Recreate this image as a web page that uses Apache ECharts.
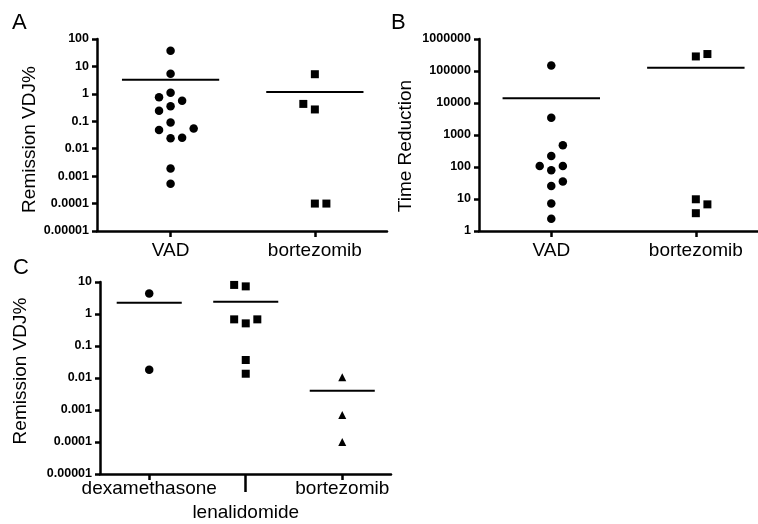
<!DOCTYPE html>
<html>
<head>
<meta charset="utf-8">
<script src="https://cdn.jsdelivr.net/npm/echarts@6/dist/echarts.min.js"></script>
<style>
html, body { margin: 0; padding: 0; background: #fff; }
#main { width: 758px; height: 524px; }
</style>
</head>
<body>
<div id="main"></div>
<script>
var font = 'Liberation Sans, Arial, Helvetica, sans-serif';

// A: Remission VDJ%
var catsA = ['VAD', 'bortezomib'];
var vadA = [37, 5.4, 1.1, 0.75, 0.56, 0.35, 0.24, 0.09, 0.048, 0.055, 0.024, 0.025, 0.0019, 0.00053];
var vadASlot = [0, 0, 0, -1, 1, 0, -1, 0, -1, 2, 0, 1, 0, 0];
var bortA = [5.2, 0.43, 0.27, 0.0001, 0.0001];
var bortASlot = [0, -1, 0, 0, 1];
var meansA = [3.3, 1.17];
var ticksA = ['0.00001', '0.0001', '0.001', '0.01', '0.1', '1', '10', '100'];

// B: Time Reduction
var catsB = ['VAD', 'bortezomib'];
var vadB = [149000, 3440, 481, 222, 108, 108, 79, 35, 25.6, 7.2, 2.4];
var vadBSlot = [0, 0, 1, 0, -1, 1, 0, 1, 0, 0, 0];
var bortB = [285000, 339000, 9.8, 6.8, 3.6];
var bortBSlot = [0, 1, 0, 1, 0];
var meansB = [14200, 126000];
var ticksB = ['1', '10', '100', '1000', '10000', '100000', '1000000'];

// C: Remission VDJ%
var catsC = ['dexamethasone', 'lenalidomide', 'bortezomib'];
var dexC = [4.4, 0.018];
var dexCSlot = [0, 0];
var lenC = [8.1, 7.3, 0.68, 0.51, 0.68, 0.0365, 0.0136];
var lenCSlot = [-1, 0, -1, 0, 1, 0, 0];
var bortC = [0.0105, 0.0007, 0.0001];
var bortCSlot = [0, 0, 0];
var meansC = [2.26, 2.43, 0.004];
var ticksC = ['0.00001', '0.0001', '0.001', '0.01', '0.1', '1', '10'];

var myChart = echarts.init(document.getElementById('main'));

function logLabel(ticks, minExp) {
    return function (v) {
        return ticks[Math.round(Math.log10(v)) - minExp];
    };
}

function dots(axis, cat, vals, slots, step, symbol, size) {
    return {
        type: 'scatter',
        xAxisIndex: axis,
        yAxisIndex: axis,
        symbol: symbol,
        symbolSize: size,
        itemStyle: { color: '#000', opacity: 1 },
        silent: true,
        data: vals.map(function (v, i) { return [cat + slots[i] * step, v]; })
    };
}

function meanLine(axis, cat, m) {
    return {
        type: 'line',
        xAxisIndex: axis,
        yAxisIndex: axis,
        symbol: 'none',
        silent: true,
        lineStyle: { color: '#000', width: 2 },
        data: [[cat - 0.337, m], [cat + 0.337, m]]
    };
}

function yAxis(grid, min, max, ticks, minExp, name, gap, pad) {
    return {
        type: 'log',
        logBase: 10,
        gridIndex: grid,
        min: min,
        max: max,
        name: name,
        nameLocation: 'middle',
        nameGap: gap,
        nameTextStyle: { fontFamily: font, fontSize: 19, color: '#000', padding: pad },
        axisLine: { show: true, onZero: false, lineStyle: { color: '#000', width: 2.5 } },
        axisTick: { show: true, length: 5, lineStyle: { color: '#000', width: 2.5 } },
        axisLabel: {
            margin: 8, fontFamily: font, fontSize: 12.5, fontWeight: 'bold', color: '#000',
            formatter: logLabel(ticks, minExp)
        },
        splitLine: { show: false }
    };
}

function xAxis(grid, min, max, cats, idx, tickLen, margin, showLine) {
    return {
        type: 'value',
        gridIndex: grid,
        position: 'bottom',
        min: min,
        max: max,
        axisLine: { show: showLine, onZero: false, lineStyle: { color: '#000', width: 2.5 } },
        axisTick: { show: true, length: tickLen, customValues: idx, lineStyle: { color: '#000', width: 2.5 } },
        axisLabel: {
            margin: margin, fontFamily: font, fontSize: 19, color: '#000',
            hideOverlap: false,
            customValues: idx,
            formatter: function (v) { return cats[Math.round(v)]; }
        },
        splitLine: { show: false }
    };
}

var series = [
    dots(0, 0, vadA, vadASlot, 0.08, 'circle', 8.5),
    dots(0, 1, bortA, bortASlot, 0.08, 'rect', 8),
    meanLine(0, 0, meansA[0]),
    meanLine(0, 1, meansA[1]),
    dots(1, 0, vadB, vadBSlot, 0.08, 'circle', 8.5),
    dots(1, 1, bortB, bortBSlot, 0.08, 'rect', 8),
    meanLine(1, 0, meansB[0]),
    meanLine(1, 1, meansB[1]),
    dots(2, 0, dexC, dexCSlot, 0.12, 'circle', 8.5),
    dots(2, 1, lenC, lenCSlot, 0.12, 'rect', 8),
    dots(2, 2, bortC, bortCSlot, 0.12, 'triangle', 8),
    meanLine(2, 0, meansC[0]),
    meanLine(2, 1, meansC[1]),
    meanLine(2, 2, meansC[2])
];

myChart.setOption({
    backgroundColor: '#fff',
    animation: false,
    title: [
        { text: 'A', left: 12, top: 12, padding: 0, textStyle: { fontFamily: font, fontSize: 22, fontWeight: 'normal', color: '#000' } },
        { text: 'B', left: 391, top: 12, padding: 0, textStyle: { fontFamily: font, fontSize: 22, fontWeight: 'normal', color: '#000' } },
        { text: 'C', left: 13, top: 257, padding: 0, textStyle: { fontFamily: font, fontSize: 22, fontWeight: 'normal', color: '#000' } }
    ],
    grid: [
        { left: 97, top: 39, width: 290, height: 192 },
        { left: 479, top: 39, width: 279, height: 192 },
        { left: 100, top: 282, width: 291, height: 192 }
    ],
    xAxis: [
        xAxis(0, -0.51, 1.5, catsA, [0, 1], 6, 10, true),
        xAxis(1, -0.5, 1.43, catsB, [0, 1], 6, 10, true),
        xAxis(2, -0.51, 2.505, catsC, [0, 2], 6, 5, true),
        // lenalidomide: long tick, label one row lower
        xAxis(2, -0.51, 2.505, catsC, [1], 18, 29, false)
    ],
    yAxis: [
        yAxis(0, 0.00001, 100, ticksA, -5, 'Remission VDJ%', 58, [0, 9, 0, 0]),
        yAxis(1, 1, 1000000, ticksB, 0, 'Time Reduction', 64, [0, 22, 0, 0]),
        yAxis(2, 0.00001, 10, ticksC, -5, 'Remission VDJ%', 70, [0, 0, 0, 14])
    ],
    series: series
});
</script>
</body>
</html>
